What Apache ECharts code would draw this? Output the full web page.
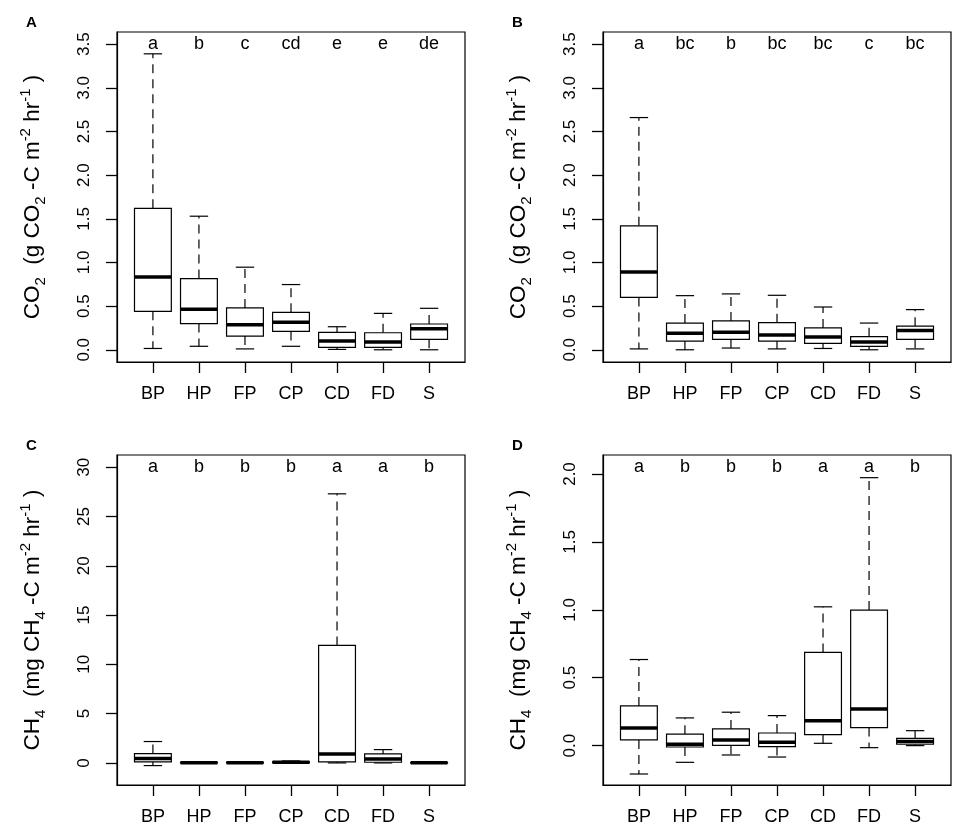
<!DOCTYPE html>
<html>
<head>
<meta charset="utf-8">
<script src="https://cdn.jsdelivr.net/npm/echarts@6/dist/echarts.min.js"></script>
<style>
    html, body { margin: 0; padding: 0; background: #fff; }
    #chart { width: 957px; height: 831px; }
</style>
</head>
<body>
<div id="chart"></div>
<script>
/* ===================== 数据 ===================== */
var categories = ['BP', 'HP', 'FP', 'CP', 'CD', 'FD', 'S'];

// 每组: [下须, Q1, 中位数, Q3, 上须]
var co2A = [
    [0.015, 0.44, 0.835, 1.62, 3.39],
    [0.04, 0.30, 0.463, 0.816, 1.53],
    [0.01, 0.157, 0.287, 0.479, 0.946],
    [0.04, 0.21, 0.314, 0.429, 0.747],
    [0.004, 0.027, 0.10, 0.20, 0.264],
    [0.0, 0.027, 0.088, 0.195, 0.417],
    [0.0, 0.12, 0.24, 0.295, 0.475]
];
var co2B = [
    [0.01, 0.60, 0.89, 1.42, 2.66],
    [0.0, 0.10, 0.19, 0.306, 0.62],
    [0.02, 0.12, 0.20, 0.33, 0.64],
    [0.01, 0.10, 0.17, 0.31, 0.624],
    [0.015, 0.073, 0.145, 0.25, 0.49],
    [0.0, 0.04, 0.088, 0.15, 0.306],
    [0.01, 0.12, 0.22, 0.27, 0.46]
];
var ch4C = [
    [-0.27, 0.1, 0.44, 0.95, 2.17],
    [-0.05, 0.0, 0.02, 0.05, 0.1],
    [-0.05, 0.0, 0.02, 0.05, 0.1],
    [0.0, 0.02, 0.06, 0.12, 0.2],
    [0.0, 0.1, 0.91, 11.92, 27.3],
    [0.0, 0.07, 0.4, 0.91, 1.35],
    [-0.02, 0.0, 0.02, 0.04, 0.08]
];
var ch4D = [
    [-0.209, 0.042, 0.13, 0.292, 0.634],
    [-0.123, -0.01, 0.01, 0.084, 0.204],
    [-0.069, 0.002, 0.042, 0.123, 0.246],
    [-0.084, -0.007, 0.025, 0.093, 0.221],
    [0.017, 0.081, 0.184, 0.686, 1.022],
    [-0.015, 0.133, 0.27, 0.998, 1.973],
    [0.0, 0.01, 0.03, 0.054, 0.11]
];

// 显著性字母
var lettersA = ['a', 'b', 'c', 'cd', 'e', 'e', 'de'];
var lettersB = ['a', 'bc', 'b', 'bc', 'bc', 'c', 'bc'];
var lettersC = ['a', 'b', 'b', 'b', 'a', 'a', 'b'];
var lettersD = ['a', 'b', 'b', 'b', 'a', 'a', 'b'];

// 刻度
var ticksX = [1, 2, 3, 4, 5, 6, 7];
var ticksCO2 = [0, 0.5, 1.0, 1.5, 2.0, 2.5, 3.0, 3.5];
var ticksCH4C = [0, 5, 10, 15, 20, 25, 30];
var ticksCH4D = [0, 0.5, 1.0, 1.5, 2.0];
/* ===================== end ===================== */

var FONT = 'Liberation Sans, Arial, Helvetica, sans-serif';

var panels = [
    { tag: 'A', data: co2A, letters: lettersA, letterY: 3.5, ticks: ticksCO2, digits: 1, min: -0.14, max: 3.64, gas: 'CO', sub: '2', unit: 'g', left: 117, top: 32 },
    { tag: 'B', data: co2B, letters: lettersB, letterY: 3.5, ticks: ticksCO2, digits: 1, min: -0.14, max: 3.64, gas: 'CO', sub: '2', unit: 'g', left: 603, top: 32 },
    { tag: 'C', data: ch4C, letters: lettersC, letterY: 30, ticks: ticksCH4C, digits: 0, min: -2.24, max: 31.24, gas: 'CH', sub: '4', unit: 'mg', left: 117, top: 455 },
    { tag: 'D', data: ch4D, letters: lettersD, letterY: 2.05, ticks: ticksCH4D, digits: 1, min: -0.29, max: 2.14, gas: 'CH', sub: '4', unit: 'mg', left: 603, top: 455 }
];

var option = {
    backgroundColor: '#fff',
    animation: false,
    grid: [],
    xAxis: [],
    yAxis: [],
    series: [],
    graphic: []
};

function boxRender(params, api) {
    var x = api.value(0);
    var lo = api.coord([x, api.value(1)]);
    var q1 = api.coord([x, api.value(2)]);
    var md = api.coord([x, api.value(3)]);
    var q3 = api.coord([x, api.value(4)]);
    var hi = api.coord([x, api.value(5)]);
    var bl = api.coord([x - 0.4, 0])[0];
    var br = api.coord([x + 0.4, 0])[0];
    var sl = api.coord([x - 0.2, 0])[0];
    var sr = api.coord([x + 0.2, 0])[0];
    var cx = lo[0];
    var solid = { stroke: '#000', lineWidth: 1.2 };
    var dash = { stroke: '#000', lineWidth: 1.2, lineDash: [9, 6] };
    return {
        type: 'group',
        children: [
            { type: 'line', shape: { x1: cx, y1: q3[1], x2: cx, y2: hi[1] }, style: dash },
            { type: 'line', shape: { x1: cx, y1: q1[1], x2: cx, y2: lo[1] }, style: dash },
            { type: 'line', shape: { x1: sl, y1: hi[1], x2: sr, y2: hi[1] }, style: solid },
            { type: 'line', shape: { x1: sl, y1: lo[1], x2: sr, y2: lo[1] }, style: solid },
            { type: 'rect', shape: { x: bl, y: q3[1], width: br - bl, height: q1[1] - q3[1] },
              style: { fill: '#fff', stroke: '#000', lineWidth: 1.2 } },
            { type: 'line', shape: { x1: bl, y1: md[1], x2: br, y2: md[1] }, style: { stroke: '#000', lineWidth: 3.5 } }
        ]
    };
}

panels.forEach(function (p, i) {
    option.grid.push({
        left: p.left, top: p.top, width: 348, height: 330,
        show: true, borderColor: '#000', borderWidth: 1.2
    });

    option.xAxis.push({
        type: 'value', gridIndex: i, min: 0.22, max: 7.78,
        position: 'bottom',
        axisLine: { show: true, onZero: false, lineStyle: { color: '#000', width: 1.2 } },
        splitLine: { show: false },
        axisTick: { show: true, length: 11, customValues: ticksX, lineStyle: { color: '#000', width: 1.3 } },
        axisLabel: {
            customValues: ticksX,
            formatter: function (v) { return categories[Math.round(v) - 1]; },
            color: '#000', fontSize: 18, fontFamily: FONT, margin: 23
        }
    });

    var nameStr = '{n|' + p.gas + '}{sb|' + p.sub + '}{n|  (' + p.unit + ' ' + p.gas + '}{sb|' + p.sub +
        '}{n| -C m}{sp|-2}{n| hr}{sp|-1}{n| )}';
    option.yAxis.push({
        type: 'value', gridIndex: i, min: p.min, max: p.max,
        position: 'left',
        axisLine: { show: true, onZero: false, lineStyle: { color: '#000', width: 1.2 } },
        splitLine: { show: false },
        axisTick: { show: true, length: 11, customValues: p.ticks, lineStyle: { color: '#000', width: 1.3 } },
        axisLabel: {
            customValues: p.ticks,
            rotate: 90,
            formatter: (function (d) { return function (v) { return v.toFixed(d); }; })(p.digits),
            color: '#000', fontSize: 17, fontFamily: FONT, margin: 24
        },
        name: nameStr,
        nameLocation: 'middle',
        nameRotate: 90,
        nameGap: 69,
        nameTextStyle: {
            rich: {
                n: { fontSize: 22.5, fontFamily: FONT, color: '#000', lineHeight: 30 },
                sb: { fontSize: 15, fontFamily: FONT, color: '#000', lineHeight: 15, verticalAlign: 'bottom' },
                sp: { fontSize: 15, fontFamily: FONT, color: '#000', lineHeight: 15, verticalAlign: 'top' }
            }
        }
    });

    option.series.push({
        type: 'custom',
        xAxisIndex: i, yAxisIndex: i,
        renderItem: boxRender,
        encode: { x: 0, y: [1, 2, 3, 4, 5] },
        data: p.data.map(function (d, k) { return [k + 1].concat(d); }),
        silent: true
    });

    option.series.push({
        type: 'custom',
        xAxisIndex: i, yAxisIndex: i,
        renderItem: (function (letters) {
            return function (params, api) {
                var pt = api.coord([api.value(0), api.value(1)]);
                return {
                    type: 'text', x: pt[0], y: pt[1],
                    style: { text: letters[params.dataIndex], fill: '#000', font: '18px ' + FONT, align: 'center', verticalAlign: 'middle' }
                };
            };
        })(p.letters),
        data: categories.map(function (c, k) { return [k + 1, p.letterY]; }),
        silent: true
    });

    option.graphic.push({
        type: 'text', left: p.left - 91, top: p.top - 17,
        style: { text: p.tag, fill: '#000', font: 'bold 15px ' + FONT }
    });
});

var chart = echarts.init(document.getElementById('chart'));
chart.setOption(option);
</script>
</body>
</html>
